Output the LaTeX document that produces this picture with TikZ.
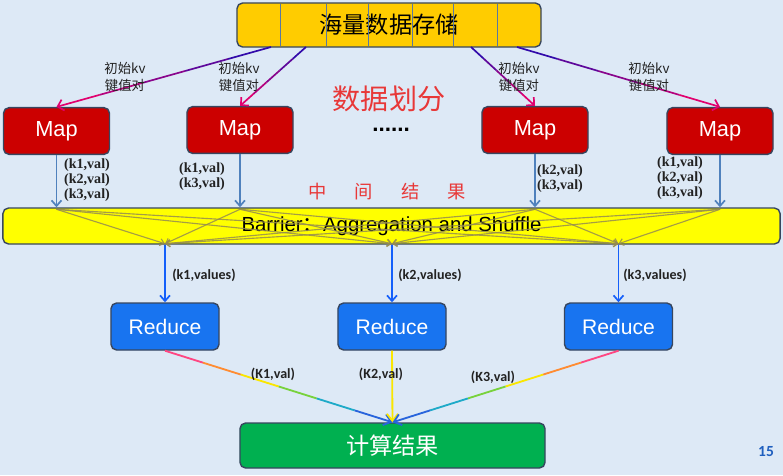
\documentclass[tikz,border=0pt]{standalone}
\usepackage{fontspec}
\setmainfont{Liberation Sans}
\newfontfamily\cjk{Noto Sans CJK SC}
\newfontfamily\cali{Carlito}
\newfontfamily\tnr{Liberation Serif}
\usetikzlibrary{arrows.meta,calc}

\definecolor{bgblue}{RGB}{221,233,246}
\definecolor{boxline}{RGB}{55,70,95}
\definecolor{storegold}{RGB}{255,204,0}
\definecolor{divider}{RGB}{90,120,160}
\definecolor{mapred}{RGB}{204,0,0}
\definecolor{barryellow}{RGB}{255,255,0}
\definecolor{redblue}{RGB}{24,116,240}
\definecolor{resgreen}{RGB}{0,176,80}
\definecolor{splitred}{RGB}{232,56,56}
\definecolor{lbltext}{RGB}{34,34,34}
\definecolor{kvtop}{RGB}{50,10,170}
\definecolor{kvbot}{RGB}{225,0,110}
\definecolor{mapblue}{RGB}{79,129,189}
\definecolor{redin}{RGB}{20,95,250}
\definecolor{shuf}{RGB}{150,140,80}
\definecolor{pagenum}{RGB}{31,95,191}
\definecolor{rb1}{RGB}{255,70,130}
\definecolor{rb2}{RGB}{255,140,50}
\definecolor{rb3}{RGB}{250,230,0}
\definecolor{rb4}{RGB}{120,210,60}
\definecolor{rb5}{RGB}{30,170,200}
\definecolor{rb6}{RGB}{40,100,220}

\tikzset{
  box/.style={draw=boxline, line width=1pt, rounded corners=4pt, inner sep=0pt},
  storebox/.style={box, fill=storegold, minimum width=7.6cm, minimum height=1.1cm,
    font=\cjk\fontsize{16.5}{18}\selectfont},
  mapbox/.style={box, fill=mapred, text=white, minimum width=2.65cm, minimum height=1.17cm,
    font=\fontsize{15.5}{18}\selectfont},
  barrbox/.style={box, fill=barryellow, minimum width=19.425cm, minimum height=0.9cm,
    font=\fontsize{14.5}{16}\selectfont},
  redbox/.style={box, fill=redblue, text=white, minimum width=2.7cm, minimum height=1.175cm,
    font=\fontsize{15}{18}\selectfont},
  resbox/.style={box, fill=resgreen, text=white, minimum width=7.625cm, minimum height=1.125cm,
    font=\cjk\fontsize{16.5}{18}\selectfont},
  kvlbl/.style={align=center, text=lbltext, font=\cjk\fontsize{9.5}{12}\selectfont},
  pairlbl/.style={align=center, text=lbltext, font=\tnr\bfseries\fontsize{10}{10.6}\selectfont},
  vallbl/.style={text=lbltext, font=\cali\bfseries\fontsize{10}{11}\selectfont},
  kvline/.style={line width=1.2pt},
  rbline/.style={line width=1.3pt},
  mapout/.style={draw=mapblue, line width=1.2pt, -{Straight Barb[length=4pt,width=7pt]}},
  redarrow/.style={draw=redin, line width=1.2pt, -{Straight Barb[length=4pt,width=7pt]}},
  shufline/.style={draw=shuf, line width=0.8pt, opacity=0.85, -{Straight Barb[length=3pt,width=5pt]}}
}

% gradient line from storage to a map
\newcommand{\kvarrow}[2]{%
  \foreach \i in {0,...,3}{
    \pgfmathtruncatemacro\p{\i*25}
    \draw[kvline,color=kvbot!\p!kvtop] ($(#1)!\i/5!(#2)$) -- ($(#1)!\i/5+0.2!(#2)$);}
  \draw[kvline,color=kvbot,-{Straight Barb[length=4pt,width=8pt]}] ($(#1)!0.8!(#2)$) -- (#2);
}
% rainbow line from a reduce to the result
\newcommand{\rainbow}[2]{%
  \foreach \c [count=\i from 0] in {rb1,rb2,rb3,rb4,rb5}
    \draw[rbline,color=\c] ($(#1)!\i/6!(#2)$) -- ($(#1)!\i/6+1/6!(#2)$);
  \draw[rbline,color=rb6,-{Straight Barb[length=5pt,width=8pt]}] ($(#1)!5/6!(#2)$) -- (#2);
}

\begin{document}
\begin{tikzpicture}[x=0.025cm, y=-0.025cm]
  \useasboundingbox (0,0) rectangle (783,475);
  \fill[bgblue] (0,0) rectangle (783,475);

  % storage
  \node[storebox] (store) at (389,25) {海量数据存储};
  \foreach \x in {280,326,368,412,453,497}
    \draw[divider, line width=0.5pt] (\x,3.6) -- (\x,46.4);

  % maps
  \node[mapbox] (map1) at (56.5,131) {Map};
  \node[mapbox] (map2) at (240,130) {Map};
  \node[mapbox] (map3) at (535,130) {Map};
  \node[mapbox] (map4) at (720,131) {Map};

  \coordinate (s1) at (271,47);
  \coordinate (s2) at (306,47);
  \coordinate (s3) at (471,47);
  \coordinate (s4) at (517,47);
  \foreach \m in {1,...,4}
    \kvarrow{s\m}{map\m.north};

  \node[kvlbl] (kv1) at (125,77) {初始kv\\键值对};
  \node[kvlbl] (kv2) at (239,77) {初始kv\\键值对};
  \node[kvlbl] (kv3) at (519,77) {初始kv\\键值对};
  \node[kvlbl] (kv4) at (649,77) {初始kv\\键值对};

  \node[text=splitred, font=\cjk\fontsize{20}{22}\selectfont] (split) at (389,99) {数据划分};
  \node[anchor=base, font=\bfseries\fontsize{16}{16}\selectfont] (dots) at (391,131) {......};
  \node[text=splitred, font=\cjk\fontsize{13}{15}\selectfont] (mid) at (387,192)
    {中\hspace{20pt}间\hspace{20pt}结\hspace{20pt}果};

  % barrier
  \node[barrbox] (barrier) at (391.5,226) {Barrier{\cjk ：}Aggregation and Shuffle};

  % reduces and result
  \node[redbox] (red1) at (165,326.5) {Reduce};
  \node[redbox] (red2) at (392,326.5) {Reduce};
  \node[redbox] (red3) at (618.5,326.5) {Reduce};
  \node[resbox] (res) at (392.5,445.5) {计算结果};

  \foreach \m in {1,...,4}
    \draw[mapout] (map\m.south) -- (map\m.south |- barrier.north);
  \foreach \m in {1,...,4}
    \foreach \r in {1,...,3}
      \draw[shufline] ($(map\m.south |- barrier.north)+(0,2)$) -- ($(red\r.north |- barrier.south)+(0,-1)$);
  \foreach \r in {1,...,3}
    \draw[redarrow] (red\r.north |- barrier.south) -- (red\r.north);

  \node[pairlbl] (p1) at (87,180) {(k1,val)\\(k2,val)\\(k3,val)};
  \node[pairlbl] (p2) at (202,177) {(k1,val)\\(k3,val)};
  \node[pairlbl] (p3) at (560,178.5) {(k2,val)\\(k3,val)};
  \node[pairlbl] (p4) at (680,178) {(k1,val)\\(k2,val)\\(k3,val)};

  \node[vallbl] (v1) at (204,275) {(k1,values)};
  \node[vallbl] (v2) at (430,275) {(k2,values)};
  \node[vallbl] (v3) at (655,275) {(k3,values)};

  \rainbow{red1.south}{res.north}
  \draw[rbline, color=rb3, -{Straight Barb[length=5pt,width=8pt]}] (red2.south) -- (res.north);
  \rainbow{red3.south}{res.north}

  \node[vallbl] (o1) at (273,374) {(K1,val)};
  \node[vallbl] (o2) at (381,374) {(K2,val)};
  \node[vallbl] (o3) at (493,377) {(K3,val)};

  \node[text=pagenum, font=\cali\bfseries\fontsize{11}{12}\selectfont] (page) at (766,452) {15};
\end{tikzpicture}
\end{document}
